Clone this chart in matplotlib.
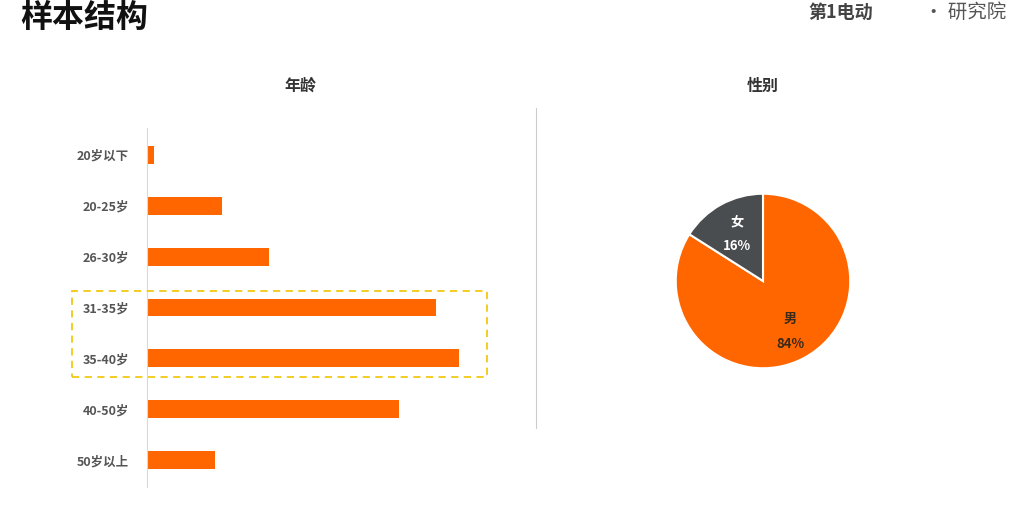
import math
import matplotlib.pyplot as plt
from matplotlib.patches import Rectangle
from matplotlib.lines import Line2D

plt.rcParams['font.family'] = ['Noto Sans CJK SC', 'DejaVu Sans']

# data
age_groups = ['20岁以下', '20-25岁', '26-30岁', '31-35岁', '35-40岁', '40-50岁', '50岁以上']
age_share = [0.6, 6.7, 10.8, 25.7, 27.7, 22.4, 6.0]
gender_labels = ['男', '女']
gender_share = [84, 16]

ORANGE = '#FF6600'
DARK = '#4A4D50'

W, H = 1024, 516
fig = plt.figure(figsize=(W / 100, H / 100), dpi=100)


def px_axes(x0, y0, x1, y1):
    """axes from pixel box (top-left origin)"""
    return fig.add_axes([x0 / W, 1 - y1 / H, (x1 - x0) / W, (y1 - y0) / H])


# header
fig.text(20 / W, 1 - 18 / H, '样本结构', fontsize=23, fontweight='bold',
         color='#111111', va='center', ha='left')
fig.text(808 / W, 1 - 12 / H, '第1电动', fontsize=13, fontweight='bold', style='italic',
         color='#444444', va='center', ha='left')
fig.text(1006 / W, 1 - 12 / H, '· 研究院', fontsize=14, color='#555555',
         va='center', ha='right')

# section titles
fig.text(300 / W, 1 - 86 / H, '年龄', fontsize=11.5, fontweight='bold', color='#333333',
         ha='center', va='center')
fig.text(763 / W, 1 - 86 / H, '性别', fontsize=11.5, fontweight='bold', color='#333333',
         ha='center', va='center')

# separator
fig.add_artist(Line2D([536 / W, 536 / W], [1 - 108 / H, 1 - 428 / H],
                      color='#cccccc', linewidth=0.8))

# age bars
ax = px_axes(147, 128, 536, 487)
pos = list(range(len(age_groups)))
ax.barh(pos, age_share, height=0.35, color=ORANGE)
ax.set_ylim(6.53, -0.53)
ax.set_xlim(0, 389 / 11.26)
ax.set_yticks(pos)
ax.set_yticklabels(age_groups, fontsize=9, fontweight='bold', color='#555555')
ax.tick_params(axis='y', length=0, pad=13)
ax.set_xticks([])
for s in ['top', 'right', 'bottom']:
    ax.spines[s].set_visible(False)
ax.spines['left'].set_color('#d9d9d9')
ax.spines['left'].set_linewidth(0.8)
ax.patch.set_alpha(0)

# highlight box
fig.add_artist(Rectangle((72 / W, 1 - 377 / H), (487 - 72) / W, (377 - 291) / H,
                         fill=False, edgecolor='#F2C811', linewidth=1.3,
                         linestyle=(0, (4, 3))))

# gender pie
r = 89
pax = px_axes(763 - r, 281 - r, 763 + r, 281 + r)
wedges, texts = pax.pie(gender_share, colors=[ORANGE, DARK], startangle=90,
                        counterclock=False, radius=1,
                        wedgeprops=dict(edgecolor='white', linewidth=1.5))
pax.set_xlim(-1.02, 1.02)
pax.set_ylim(-1.02, 1.02)
pax.set_aspect('equal')
label_colors = ['#3a2a1a', 'white']
label_r = [0.66, 0.62]
start = 90.0
for lab, val, col, lr in zip(gender_labels, gender_share, label_colors, label_r):
    mid = math.radians(start - val / 100 * 360 / 2)
    start -= val / 100 * 360
    pax.text(lr * math.cos(mid), lr * math.sin(mid), f'{lab}\n{val}%',
             ha='center', va='center', fontsize=9.5, fontweight='bold',
             color=col, linespacing=2.0)

fig.savefig('out.png', dpi=100)
